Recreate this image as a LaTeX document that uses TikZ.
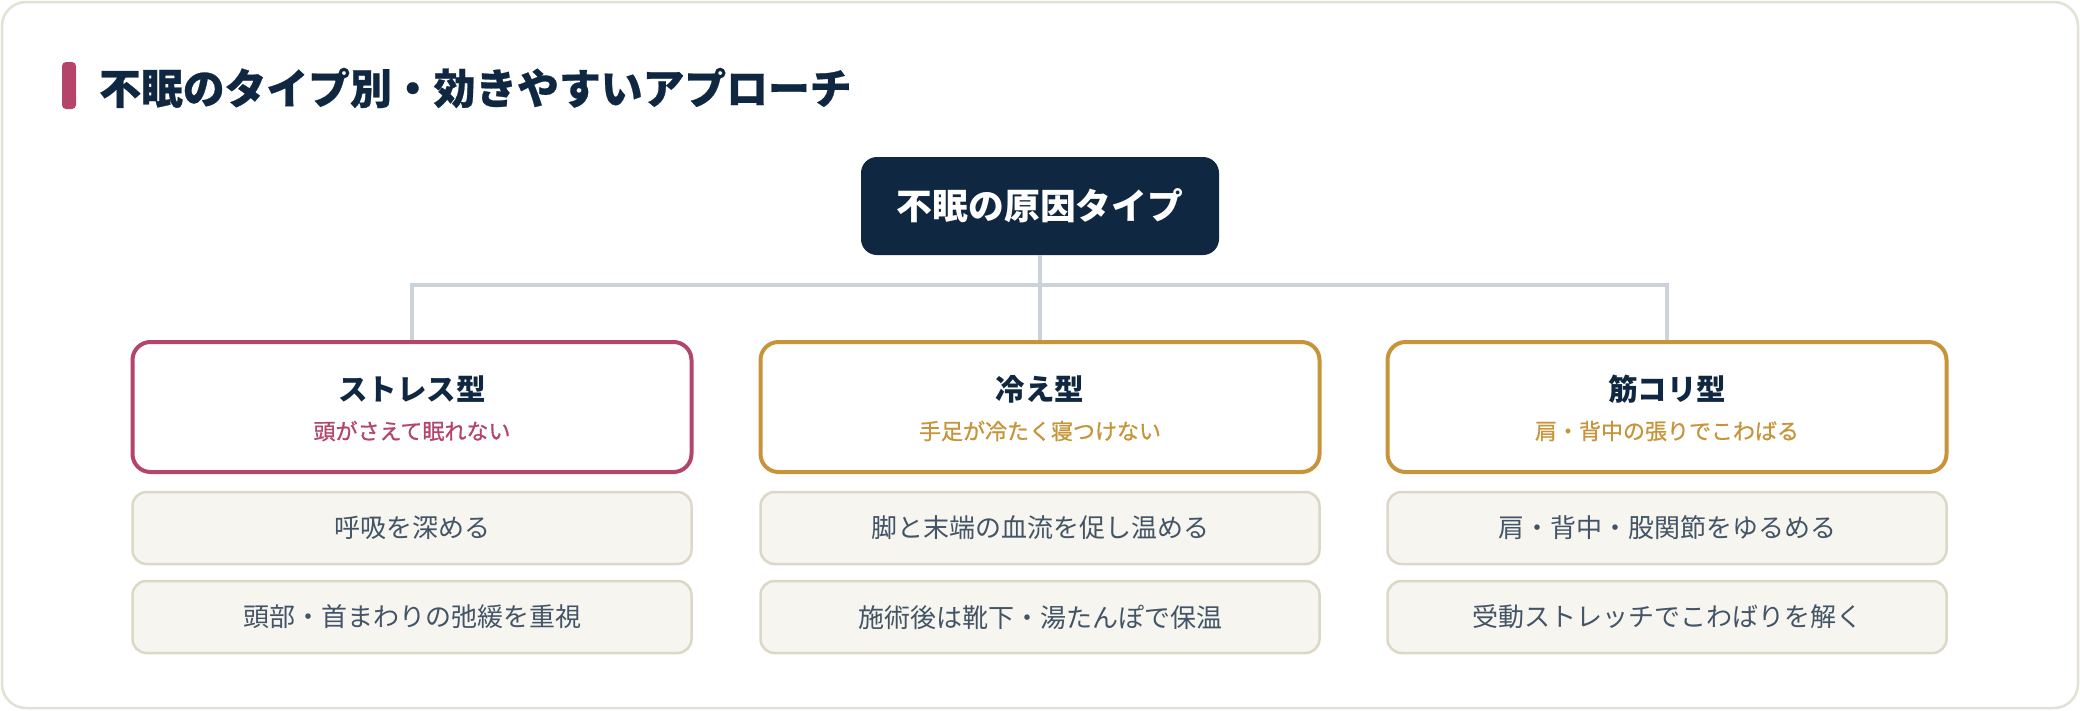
\documentclass[tikz,border=0pt]{standalone}
\usepackage{fontspec}
\setmainfont{Noto Sans CJK JP}
\newfontfamily\jpmed[FakeBold=0.8]{Noto Sans CJK JP}
\definecolor{navy}{HTML}{0F2740}
\definecolor{rose}{HTML}{B5446B}
\definecolor{gold}{HTML}{C8943A}
\definecolor{linegrey}{HTML}{CCD2DA}
\definecolor{itemfill}{HTML}{F6F5EF}
\definecolor{itemborder}{HTML}{DCD8C6}
\definecolor{itemtext}{HTML}{425466}
\definecolor{outerborder}{HTML}{E3E1D3}
\tikzset{
  catbox/.style={draw=#1, line width=4pt, fill=white, rounded corners=18pt,
    minimum width=559pt, minimum height=130pt, inner sep=0pt},
  itembox/.style={draw=itemborder, line width=2.5pt, fill=itemfill, rounded corners=14pt,
    minimum width=559pt, minimum height=72pt, inner sep=0pt,
    font=\fontsize{26}{30}\selectfont, text=itemtext},
  cattitle/.style={font=\fontsize{29.5}{33}\selectfont\bfseries, text=navy, inner sep=0pt},
  catsub/.style={font=\jpmed\fontsize{22}{26}\selectfont\addfontfeature{FakeBold=0.8}, text=#1, inner sep=0pt},
  link/.style={draw=linegrey, line width=4pt}
}
\begin{document}
\begin{tikzpicture}[x=1pt,y=-1pt]
\useasboundingbox (0,0) rectangle (2080,710);
\fill[white] (0,0) rectangle (2080,710);
\draw[outerborder, line width=2.5pt, rounded corners=24pt] (2,2) rectangle (2078,708);
% title
\fill[rose, rounded corners=4pt] (62,62) rectangle (76,109);
\node[anchor=west, inner sep=0pt, text=navy, font=\fontsize{41.8}{45}\selectfont\bfseries\addfontfeature{FakeBold=0.6}] (title) at (99,88) {不眠のタイプ別・効きやすいアプローチ};
% root
\node[fill=navy, rounded corners=16pt, minimum width=358pt, minimum height=98pt, inner sep=0pt,
  text=white, font=\fontsize{35.8}{40}\selectfont\bfseries] (root) at (1040,206) {不眠の原因タイプ};
% categories
\node[catbox=rose] (c1) at (412,407) {};
\node[catbox=gold] (c2) at (1040,407) {};
\node[catbox=gold] (c3) at (1667,407) {};
\coordinate (j) at (1040,285);
\draw[link] (root.south) -- (c2.north);
\draw[link] (c1.north) |- (j) -| (c3.north);
\node[cattitle] (t1) at ([yshift=18pt]c1.center) {ストレス型};
\node[catsub=rose] (s1) at ([yshift=-24pt]c1.center) {頭がさえて眠れない};
\node[cattitle] (t2) at ([yshift=18pt]c2.center) {冷え型};
\node[catsub=gold] (s2) at ([yshift=-24pt]c2.center) {手足が冷たく寝つけない};
\node[cattitle] (t3) at ([yshift=18pt]c3.center) {筋コリ型};
\node[catsub=gold] (s3) at ([yshift=-24pt]c3.center) {肩・背中の張りでこわばる};
% items
\node[itembox] (i11) at (412,528) {呼吸を深める};
\node[itembox] (i12) at (412,617) {頭部・首まわりの弛緩を重視};
\node[itembox] (i21) at (1040,528) {脚と末端の血流を促し温める};
\node[itembox] (i22) at (1040,617) {施術後は靴下・湯たんぽで保温};
\node[itembox] (i31) at (1667,528) {肩・背中・股関節をゆるめる};
\node[itembox] (i32) at (1667,617) {受動ストレッチでこわばりを解く};
\end{tikzpicture}
\end{document}
